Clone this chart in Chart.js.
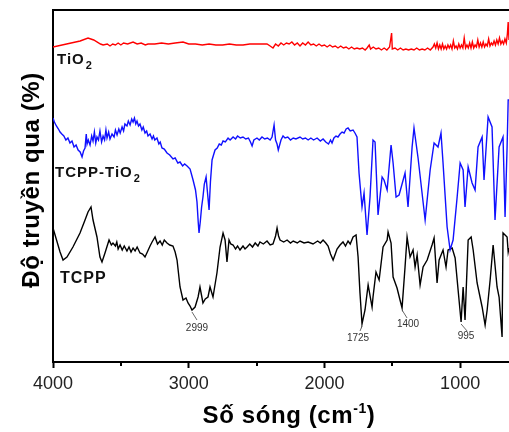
<!DOCTYPE html>
<html>
<head>
<meta charset="utf-8">
<script src="https://cdn.jsdelivr.net/npm/chart.js@4/dist/chart.umd.min.js"></script>
<style>
html,body{margin:0;padding:0;background:#fff;}
#c{display:block;}
</style>
</head>
<body>
<canvas id="c" width="509" height="432"></canvas>
<script>
// ---- Data: [wavenumber (cm^-1), transmittance (arbitrary offset units)] ----
const tio2Spectrum = [[4000,315],[3900,318],[3800,321],[3742,324],[3700,322],[3650,318],[3631,317],[3600,318],[3580,316],[3560,318],[3540,317],[3520,319],[3500,317],[3480,319],[3450,318],[3410,320],[3380,318],[3350,319],[3320,317],[3300,318],[3250,318],[3200,319],[3150,318],[3100,319],[3042,320],[3000,318],[2950,318],[2900,317],[2850,318],[2800,317],[2750,317],[2700,318],[2650,317],[2600,317],[2550,318],[2500,318],[2423,318],[2400,316],[2379,314],[2360,318],[2340,316],[2320,319],[2300,317],[2280,319],[2260,318],[2240,320],[2220,317],[2200,319],[2180,316],[2160,319],[2140,317],[2120,320],[2100,317],[2080,318],[2060,316],[2040,318],[2020,316],[2000,317],[1980,315],[1960,317],[1940,315],[1920,316],[1900,314],[1880,316],[1860,314],[1840,315],[1820,313],[1800,315],[1780,313],[1760,314],[1740,313],[1720,314],[1700,312],[1686,314],[1670,317],[1660,313],[1640,315],[1620,313],[1600,314],[1580,312],[1560,314],[1540,312],[1520,315],[1505,329],[1500,313],[1480,314],[1460,312],[1440,314],[1420,312],[1400,313],[1380,312],[1360,313],[1340,312],[1320,314],[1300,312],[1280,313],[1260,312],[1240,314],[1220,312],[1200,315],[1190,318],[1180,314],[1170,319],[1160,313],[1150,317],[1140,313],[1130,318],[1120,313],[1110,316],[1100,313],[1090,317],[1080,314],[1070,317],[1060,313],[1050,321],[1040,314],[1030,316],[1020,313],[1010,318],[1000,314],[990,317],[980,314],[970,324],[960,314],[950,317],[940,314],[930,319],[920,314],[910,320],[900,314],[890,317],[880,315],[870,322],[860,315],[850,319],[840,315],[830,320],[820,315],[810,318],[800,316],[790,323],[780,316],[770,319],[760,317],[750,321],[740,317],[730,322],[720,318],[710,324],[700,318],[690,321],[680,318],[670,323],[660,319],[652,328],[646,340],[640,322]];

const tcppTio2Spectrum = [[4000,244],[3990,240],[3975,236],[3960,233],[3948,230],[3935,228],[3920,226],[3905,222],[3890,224],[3875,219],[3860,221],[3845,215],[3830,217],[3815,212],[3800,210],[3786,205],[3775,211],[3764,214],[3755,228],[3749,218],[3740,222],[3727,217],[3715,226],[3705,221],[3695,230],[3685,219],[3676,225],[3665,222],[3654,231],[3642,220],[3631,226],[3620,222],[3610,232],[3602,224],[3590,230],[3580,223],[3565,228],[3550,225],[3540,232],[3528,227],[3515,233],[3505,229],[3491,235],[3480,231],[3470,238],[3455,236],[3445,241],[3432,237],[3420,243],[3410,240],[3400,244],[3390,238],[3381,241],[3370,236],[3359,238],[3345,232],[3335,235],[3322,229],[3310,231],[3300,226],[3285,228],[3270,223],[3260,226],[3250,222],[3234,224],[3220,218],[3210,220],[3197,214],[3180,213],[3160,209],[3140,207],[3116,203],[3100,204],[3080,199],[3064,200],[3045,196],[3030,198],[3012,196],[2990,193],[2968,182],[2950,172],[2939,160],[2930,140],[2924,129],[2915,140],[2905,155],[2895,165],[2885,178],[2872,185],[2862,170],[2850,152],[2840,180],[2828,202],[2815,208],[2806,212],[2790,214],[2775,218],[2760,217],[2747,221],[2730,220],[2710,224],[2695,222],[2673,225],[2655,223],[2640,226],[2620,224],[2600,225],[2580,223],[2560,224],[2545,220],[2533,216],[2520,222],[2497,224],[2480,222],[2460,225],[2440,223],[2420,224],[2400,222],[2386,225],[2371,237],[2360,222],[2349,218],[2340,212],[2334,215],[2320,222],[2305,226],[2290,224],[2270,225],[2250,222],[2230,224],[2210,223],[2180,225],[2160,223],[2140,224],[2120,222],[2100,224],[2080,222],[2054,224],[2030,221],[2010,223],[1990,220],[1970,218],[1955,222],[1944,219],[1930,224],[1915,226],[1900,225],[1885,228],[1870,230],[1855,229],[1840,233],[1826,234],[1810,231],[1789,232],[1775,229],[1760,225],[1745,189],[1723,155],[1708,169],[1686,127],[1664,165],[1642,222],[1627,220],[1605,147],[1575,185],[1561,182],[1538,172],[1509,217],[1494,199],[1472,165],[1450,167],[1406,189],[1384,155],[1354,215],[1340,234],[1310,204],[1258,142],[1221,192],[1192,219],[1163,215],[1141,229],[1126,199],[1096,135],[1074,112],[1052,122],[1022,165],[1000,199],[978,192],[964,155],[941,195],[912,179],[890,172],[868,215],[838,225],[824,182],[794,245],[765,235],[743,142],[713,215],[684,225],[669,145],[654,215],[646,262],[640,262]];

const tcppSpectrum = [[4000,134],[3948,110],[3926,102],[3897,105],[3853,115],[3801,129],[3764,142],[3742,150],[3720,155],[3705,142],[3676,125],[3654,105],[3639,100],[3617,109],[3587,122],[3570,117],[3558,119],[3540,116],[3530,120],[3520,113],[3506,117],[3490,112],[3475,116],[3455,111],[3440,115],[3425,110],[3410,114],[3395,111],[3380,115],[3359,109],[3340,108],[3322,105],[3305,110],[3285,116],[3270,120],[3248,125],[3230,118],[3211,121],[3195,117],[3180,122],[3160,119],[3140,117],[3116,116],[3100,110],[3086,102],[3064,75],[3042,62],[3020,64],[3005,59],[2990,56],[2976,52],[2953,55],[2931,65],[2917,75],[2895,59],[2878,63],[2858,65],[2843,75],[2821,65],[2792,89],[2769,115],[2747,129],[2732,122],[2718,100],[2703,122],[2690,118],[2673,117],[2655,113],[2640,116],[2622,112],[2600,116],[2585,113],[2570,115],[2550,118],[2530,115],[2510,119],[2490,116],[2475,120],[2450,118],[2423,121],[2400,117],[2379,118],[2360,126],[2349,134],[2338,126],[2327,122],[2300,120],[2275,122],[2250,119],[2230,121],[2200,119],[2180,121],[2150,119],[2120,120],[2084,118],[2050,121],[2030,119],[2010,122],[1990,119],[1973,116],[1955,108],[1936,102],[1920,108],[1907,113],[1885,117],[1863,120],[1845,116],[1826,121],[1810,118],[1789,125],[1767,127],[1752,105],[1738,69],[1723,38],[1701,52],[1678,77],[1649,55],[1642,65],[1620,90],[1597,82],[1568,115],[1538,122],[1531,130],[1509,119],[1494,85],[1465,74],[1443,62],[1428,54],[1406,95],[1391,125],[1369,105],[1347,112],[1332,95],[1317,107],[1295,77],[1273,95],[1243,102],[1207,117],[1192,124],[1170,79],[1155,102],[1126,112],[1104,95],[1089,112],[1059,114],[1037,104],[1015,72],[993,40],[978,75],[964,42],[941,122],[919,125],[904,112],[875,79],[838,55],[816,37],[801,52],[779,82],[757,117],[728,75],[713,65],[691,25],[684,129],[654,125],[646,110],[640,114]];

const seriesNames = ['TiO', 'TCPP-TiO', 'TCPP'];
const xTickValues = [4000, 3000, 2000, 1000];
const xMinorTicks = [3500, 2500, 1500];
const peakLabels = ['2999', '1725', '1400', '995'];
const peakWn = [2976, 1723, 1428, 993];
const peakT = [52, 38, 54, 40];

// ---- styles ----
const FONT = "'Liberation Sans', Arial, sans-serif";
const peakStyle = [ // leader dx,dy ; label dx,dy (pixels)
  {lx:5, ly:10, tx:5, ty:18},
  {lx:-2, ly:7, tx:-4, ty:14},
  {lx:5, ly:10, tx:6, ty:16},
  {lx:6, ly:9, tx:5, ty:14}
];

function pts(pairs){ return pairs.map(p=>({x:p[0], y:p[1]})); }

const deco = {
  id: 'deco',
  afterDraw(chart){
    const ctx = chart.ctx, a = chart.chartArea;
    const xs = chart.scales.x, ys = chart.scales.y;
    ctx.save();
    // top frame line
    ctx.fillStyle = '#000';
    ctx.fillRect(Math.round(a.left) - 1, Math.round(a.top) - 1, Math.round(a.right - a.left) + 2, 2);
    // minor ticks
    ctx.strokeStyle = '#000'; ctx.lineWidth = 2;
    xMinorTicks.forEach(v=>{
      const px = Math.round(xs.getPixelForValue(v));
      ctx.beginPath(); ctx.moveTo(px, a.bottom); ctx.lineTo(px, a.bottom+4); ctx.stroke();
    });
    // peak labels
    ctx.fillStyle = '#333'; ctx.strokeStyle = '#444'; ctx.lineWidth = 0.8;
    ctx.font = '10px ' + FONT; ctx.textAlign = 'center'; ctx.textBaseline = 'middle';
    peakLabels.forEach((t,i)=>{
      const px = xs.getPixelForValue(peakWn[i]), py = ys.getPixelForValue(peakT[i]);
      const s = peakStyle[i];
      ctx.beginPath(); ctx.moveTo(px, py+2); ctx.lineTo(px+s.lx, py+s.ly); ctx.stroke();
      ctx.fillText(t, px+s.tx, py+s.ty);
    });
    // series labels
    ctx.fillStyle = '#111'; ctx.textAlign = 'left'; ctx.textBaseline = 'alphabetic';
    function sub(main, subTxt, x, y, size){
      ctx.font = 'bold ' + size + 'px ' + FONT;
      ctx.letterSpacing = '1px';
      ctx.fillText(main, x, y);
      const w = ctx.measureText(main).width;
      if (subTxt){
        ctx.font = 'bold ' + Math.round(size*0.7) + 'px ' + FONT;
        ctx.fillText(subTxt, x + w + 1, y + 5);
      }
      ctx.letterSpacing = '0px';
    }
    sub(seriesNames[0], '2', a.left+4, 64, 15);
    sub(seriesNames[1], '2', a.left+2, 177, 15);
    sub(seriesNames[2], '', a.left+7, 283, 16);
    // axis titles
    ctx.fillStyle = '#000';
    ctx.letterSpacing = '0.6px';
    const p1 = 'Số sóng (cm', p2 = '-1', p3 = ')';
    ctx.font = 'bold 24px ' + FONT; const w1 = ctx.measureText(p1).width;
    ctx.font = 'bold 14px ' + FONT; const w2 = ctx.measureText(p2).width;
    ctx.font = 'bold 24px ' + FONT; const w3 = ctx.measureText(p3).width;
    let x0 = 289 - (w1+w2+w3)/2; const yb = 423;
    ctx.fillText(p1, x0, yb);
    ctx.font = 'bold 14px ' + FONT; ctx.fillText(p2, x0+w1, yb-10);
    ctx.font = 'bold 24px ' + FONT; ctx.fillText(p3, x0+w1+w2, yb);
    // y title
    ctx.translate(39, 180); ctx.rotate(-Math.PI/2);
    ctx.textAlign = 'center';
    ctx.fillText('Độ truyền qua (%)', 0, 0);
    ctx.restore();
  }
};

new Chart(document.getElementById('c'), {
  type: 'line',
  data: {
    datasets: [
      {label: 'TiO2', data: pts(tio2Spectrum), borderColor: '#ff0000', borderWidth: 1.4},
      {label: 'TCPP-TiO2', data: pts(tcppTio2Spectrum), borderColor: '#1010ff', borderWidth: 1.4},
      {label: 'TCPP', data: pts(tcppSpectrum), borderColor: '#000000', borderWidth: 1.4}
    ]
  },
  options: {
    responsive: false,
    animation: false,
    devicePixelRatio: 1,
    layout: {padding: {top: 10, right: 0, left: 0, bottom: 0}},
    elements: {point: {radius: 0}, line: {tension: 0}},
    plugins: {legend: {display: false}, tooltip: {enabled: false}},
    scales: {
      x: {
        type: 'linear', reverse: true, min: 640, max: 4000,
        afterBuildTicks(s){ s.ticks = xTickValues.map(v=>({value: v})); },
        afterFit(s){ s.height = 70; },
        ticks: {font: {size: 18, family: FONT}, color: '#222', padding: 5, maxRotation: 0, autoSkip: false,
                callback: v => String(v)},
        grid: {display: true, drawOnChartArea: false, drawTicks: true, tickLength: 6, tickWidth: 2, tickColor: '#000'},
        border: {display: true, color: '#000', width: 2}
      },
      y: {
        min: 0, max: 352,
        afterFit(s){ s.width = 53; },
        ticks: {display: false},
        grid: {display: false},
        border: {display: true, color: '#000', width: 2}
      }
    }
  },
  plugins: [deco]
});
</script>
</body>
</html>
